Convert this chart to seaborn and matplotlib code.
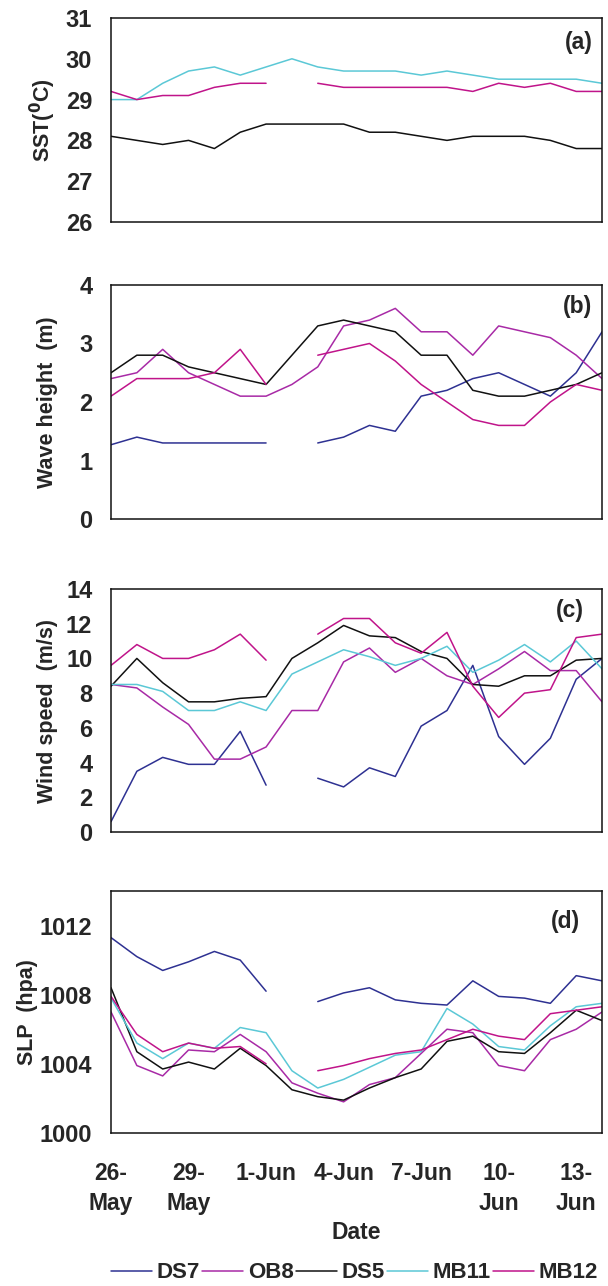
import numpy as np
import pandas as pd
import seaborn as sns
import matplotlib.pyplot as plt

# ---- data (26-May .. 14-Jun, daily) ----
dates = ['26-May', '27-May', '28-May', '29-May', '30-May', '31-May', '1-Jun',
         '2-Jun', '3-Jun', '4-Jun', '5-Jun', '6-Jun', '7-Jun', '8-Jun',
         '9-Jun', '10-Jun', '11-Jun', '12-Jun', '13-Jun', '14-Jun']
tick_labels = ['26-\nMay', '29-\nMay', '1-Jun', '4-Jun', '7-Jun', '10-\nJun', '13-\nJun']
stations = ['DS7', 'OB8', 'DS5', 'MB11', 'MB12']
nan = np.nan

# (a) SST
sst_ds5 = [28.1, 28.0, 27.9, 28.0, 27.8, 28.2, 28.4, 28.4, 28.4, 28.4,
           28.2, 28.2, 28.1, 28.0, 28.1, 28.1, 28.1, 28.0, 27.8, 27.8]
sst_mb11 = [29.0, 29.0, 29.4, 29.7, 29.8, 29.6, 29.8, 30.0, 29.8, 29.7,
            29.7, 29.7, 29.6, 29.7, 29.6, 29.5, 29.5, 29.5, 29.5, 29.4]
sst_mb12 = [29.2, 29.0, 29.1, 29.1, 29.3, 29.4, 29.4, nan, 29.4, 29.3,
            29.3, 29.3, 29.3, 29.3, 29.2, 29.4, 29.3, 29.4, 29.2, 29.2]

# (b) wave height
wh_ds7 = [1.27, 1.4, 1.3, 1.3, 1.3, 1.3, 1.3, nan, 1.3, 1.4,
          1.6, 1.5, 2.1, 2.2, 2.4, 2.5, 2.3, 2.1, 2.5, 3.2]
wh_ob8 = [2.4, 2.5, 2.9, 2.5, 2.3, 2.1, 2.1, 2.3, 2.6, 3.3,
          3.4, 3.6, 3.2, 3.2, 2.8, 3.3, 3.2, 3.1, 2.8, 2.4]
wh_ds5 = [2.5, 2.8, 2.8, 2.6, 2.5, 2.4, 2.3, 2.8, 3.3, 3.4,
          3.3, 3.2, 2.8, 2.8, 2.2, 2.1, 2.1, 2.2, 2.3, 2.5]
wh_mb12 = [2.1, 2.4, 2.4, 2.4, 2.5, 2.9, 2.3, nan, 2.8, 2.9,
           3.0, 2.7, 2.3, 2.0, 1.7, 1.6, 1.6, 2.0, 2.3, 2.2]

# (c) wind speed
ws_ds7 = [0.6, 3.5, 4.3, 3.9, 3.9, 5.8, 2.7, nan, 3.1, 2.6,
          3.7, 3.2, 6.1, 7.0, 9.6, 5.5, 3.9, 5.4, 8.8, 10.0]
ws_ob8 = [8.5, 8.3, 7.2, 6.2, 4.2, 4.2, 4.9, 7.0, 7.0, 9.8,
          10.6, 9.2, 10.0, 9.0, 8.5, 9.4, 10.4, 9.3, 9.3, 7.5]
ws_ds5 = [8.4, 10.0, 8.6, 7.5, 7.5, 7.7, 7.8, 10.0, 10.9, 11.9,
          11.3, 11.2, 10.4, 10.0, 8.5, 8.4, 9.0, 9.0, 9.9, 10.0]
ws_mb11 = [8.5, 8.5, 8.1, 7.0, 7.0, 7.5, 7.0, 9.1, 9.8, 10.5,
           10.1, 9.6, 10.0, 10.7, 9.2, 9.9, 10.8, 9.8, 11.0, 9.4]
ws_mb12 = [9.6, 10.8, 10.0, 10.0, 10.5, 11.4, 9.9, nan, 11.4, 12.3,
           12.3, 10.9, 10.3, 11.5, 8.4, 6.6, 8.0, 8.2, 11.2, 11.4]

# (d) sea level pressure
slp_ds7 = [1011.3, 1010.2, 1009.4, 1009.9, 1010.5, 1010.0, 1008.2, nan, 1007.6, 1008.1,
           1008.4, 1007.7, 1007.5, 1007.4, 1008.8, 1007.9, 1007.8, 1007.5, 1009.1, 1008.8]
slp_ob8 = [1007.0, 1003.9, 1003.3, 1004.8, 1004.7, 1005.7, 1004.7, 1002.9, 1002.3, 1001.8,
           1002.8, 1003.2, 1004.6, 1006.0, 1005.8, 1003.9, 1003.6, 1005.4, 1006.0, 1007.0]
slp_ds5 = [1008.4, 1004.7, 1003.7, 1004.1, 1003.7, 1004.9, 1003.9, 1002.5, 1002.1, 1001.9,
           1002.6, 1003.2, 1003.7, 1005.3, 1005.6, 1004.7, 1004.6, 1005.8, 1007.1, 1006.5]
slp_mb11 = [1007.8, 1005.2, 1004.3, 1005.2, 1004.9, 1006.1, 1005.8, 1003.6, 1002.6, 1003.1,
            1003.8, 1004.5, 1004.7, 1007.2, 1006.3, 1005.0, 1004.8, 1006.2, 1007.3, 1007.5]
slp_mb12 = [1007.9, 1005.7, 1004.7, 1005.2, 1004.9, 1005.0, 1004.0, nan, 1003.6, 1003.9,
            1004.3, 1004.6, 1004.8, 1005.4, 1006.0, 1005.6, 1005.4, 1006.9, 1007.1, 1007.3]

palette = {'DS7': '#2E3192', 'OB8': '#A82AA6', 'DS5': '#111111',
           'MB11': '#5BC8D6', 'MB12': '#C0148A'}


def long_frame(series):
    # one row per day; a new "seg" id after each missing day so lines break there
    rows = []
    for name, vals in series.items():
        seg = 0
        for i, v in enumerate(vals):
            if np.isnan(v):
                seg += 1
                continue
            rows.append({'day': i, 'value': v, 'station': name, 'seg': f'{name}{seg}'})
    return pd.DataFrame(rows)


panels = [
    ({'DS5': sst_ds5, 'MB11': sst_mb11, 'MB12': sst_mb12},
     r'SST($\mathbf{^{0}}$C)', (26, 31), [26, 27, 28, 29, 30, 31], '(a)'),
    ({'DS7': wh_ds7, 'OB8': wh_ob8, 'DS5': wh_ds5, 'MB12': wh_mb12},
     'Wave height  (m)', (0, 4), [0, 1, 2, 3, 4], '(b)'),
    ({'DS7': ws_ds7, 'OB8': ws_ob8, 'DS5': ws_ds5, 'MB11': ws_mb11, 'MB12': ws_mb12},
     'Wind speed  (m/s)', (0, 14), [0, 2, 4, 6, 8, 10, 12, 14], '(c)'),
    ({'DS7': slp_ds7, 'OB8': slp_ob8, 'DS5': slp_ds5, 'MB11': slp_mb11, 'MB12': slp_mb12},
     'SLP  (hpa)', (1000, 1014), [1000, 1004, 1008, 1012], '(d)'),
]

# axes rectangles in figure fractions (left, bottom, width, height)
rects = [(0.1826, 0.8274, 0.8076, 0.1586),
         (0.1826, 0.5964, 0.8076, 0.1820),
         (0.1826, 0.3530, 0.8076, 0.1890),
         (0.1826, 0.1190, 0.8076, 0.1882)]
label_x = [-0.108, -0.108, -0.108, -0.148]
tag_pos = [(0.953, 0.88), (0.95, 0.91), (0.935, 0.91), (0.925, 0.875)]

sns.set_style('white')
plt.rcParams['font.family'] = ['Liberation Sans', 'DejaVu Sans']
plt.rcParams['font.weight'] = 'bold'

fig = plt.figure(figsize=(6.08, 12.86), dpi=100)

handles, labels = None, None
for k, ((series, ylabel, ylim, yticks, tag), rect) in enumerate(zip(panels, rects)):
    ax = fig.add_axes(rect)
    df = long_frame(series)
    sns.lineplot(data=df, x='day', y='value', hue='station', units='seg',
                 estimator=None, palette=palette, hue_order=[s for s in stations if s in series],
                 linewidth=1.1, ax=ax, legend=(k == 2))
    if k == 2:
        handles, labels = ax.get_legend_handles_labels()
        ax.get_legend().remove()

    ax.set_xlim(0, 19)
    ax.set_ylim(*ylim)
    ax.set_yticks(yticks)
    ax.set_xticks(range(0, 19, 3))
    if k == 3:
        ax.set_xticklabels(tick_labels, fontsize=16.5, fontweight='bold', linespacing=1.4)
        ax.set_xlabel('Date', fontsize=16.5, fontweight='bold', labelpad=4)
    else:
        ax.set_xticklabels([])
        ax.set_xlabel('')
    ax.set_ylabel(ylabel, fontsize=15.5, fontweight='bold')
    ax.yaxis.set_label_coords(label_x[k], 0.5)
    ax.tick_params(axis='y', direction='out', length=6, width=1.1, labelsize=17, pad=7.5)
    ax.tick_params(axis='x', direction='out', length=6, width=1.1, pad=15)
    for lab in ax.get_yticklabels():
        lab.set_fontweight('bold')
    for sp in ax.spines.values():
        sp.set_linewidth(1.1)
        sp.set_color('#111111')
    ax.text(tag_pos[k][0], tag_pos[k][1], tag, transform=ax.transAxes, ha='center',
            va='center', fontsize=16.5, fontweight='bold')

fig.legend(handles, labels, loc='lower left', bbox_to_anchor=(111 / 608, 0.002), ncol=5,
           frameon=False, handlelength=1.85, handletextpad=0.2, borderpad=0,
           borderaxespad=0, columnspacing=0.1, prop={'weight': 'bold', 'size': 16})

fig.savefig('out.png', dpi=100)
